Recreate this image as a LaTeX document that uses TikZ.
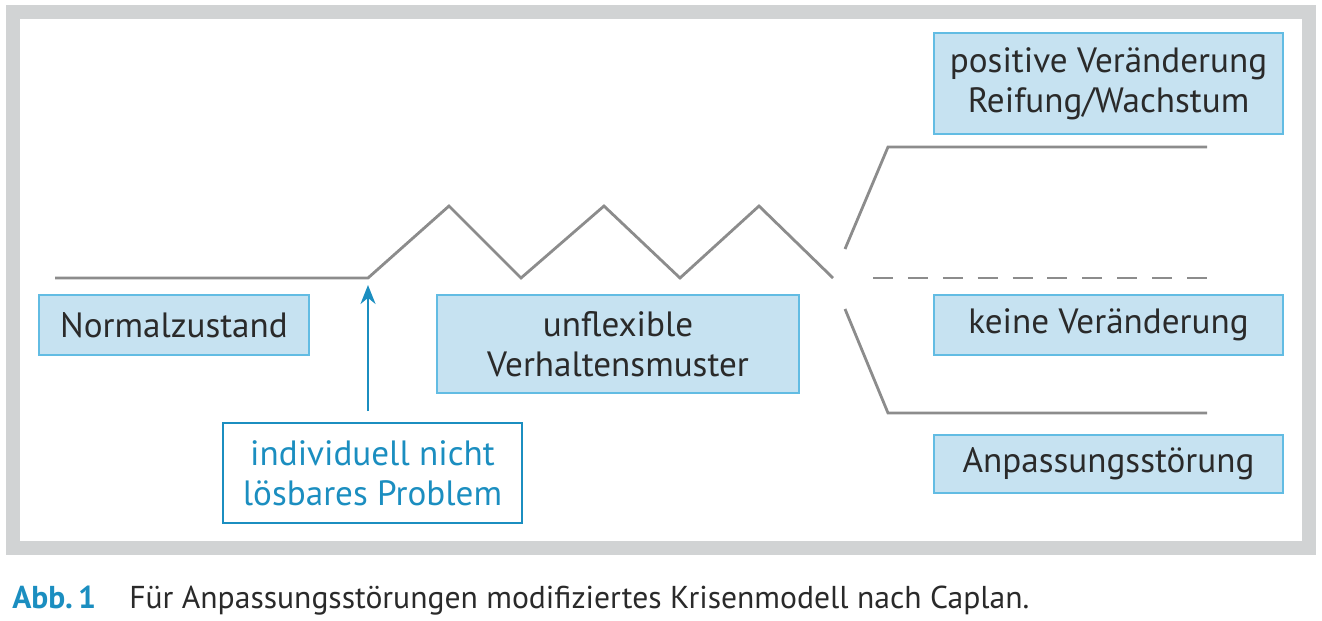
\documentclass[tikz,border=0pt]{standalone}
\usepackage{fontspec}
\setmainfont{PT Sans}
\usetikzlibrary{arrows.meta}
\definecolor{rahmen}{HTML}{D1D3D4}
\definecolor{linie}{HTML}{8C8C8C}
\definecolor{kastenfill}{HTML}{C6E2F1}
\definecolor{kastenrand}{HTML}{62BCE3}
\definecolor{blau}{HTML}{1B8EC0}
\definecolor{schrift}{HTML}{2A2A2A}
\tikzset{
	kasten/.style={draw=kastenrand, fill=kastenfill, line width=1.1pt, align=center,
		inner sep=0pt, text=schrift, font=\fontsize{20}{23}\selectfont},
	problemkasten/.style={kasten, draw=blau, fill=white, text=blau},
	kurve/.style={draw=linie, line width=1.6pt},
}
\begin{document}
\begin{tikzpicture}[x=0.02cm, y=-0.02cm]
	\useasboundingbox (0,0) rectangle (1322,620);
	% Rahmen
	\draw[rahmen, line width=0.28cm] (13,11.5) rectangle (1309,548);

	% Verlauf
	\coordinate (start) at (55,278);
	\coordinate (beginn) at (368,278);
	\draw[kurve] (start) -- (beginn) -- (449,206) -- (521,278) -- (604,206)
		-- (680,278) -- (759,206) -- (833,278);
	% Verzweigung
	\draw[kurve] (845,249) -- (888,147) -- (1207,147);
	\draw[kurve, dash pattern=on 0.4cm off 0.298cm] (873,278) -- (1207,278);
	\draw[kurve] (845,309) -- (888,413) -- (1207,413);

	% Kaesten
	\node[kasten, minimum width=5.4cm, minimum height=1.2cm] (normal) at (174,325)
		{Normalzustand};
	\node[kasten, minimum width=7.24cm, minimum height=1.96cm] (muster) at (618,344)
		{unflexible\\Verhaltensmuster};
	\node[problemkasten, minimum width=5.98cm, minimum height=2cm] (problem) at (372.5,473)
		{individuell nicht\\lösbares Problem};
	\node[kasten, minimum width=6.98cm, minimum height=2.02cm] (positiv) at (1108.5,83.5)
		{positive Veränderung\\Reifung/Wachstum};
	\node[kasten, minimum width=6.98cm, minimum height=1.2cm] (keine) at (1108.5,325)
		{keine Veränderung};
	\node[kasten, minimum width=6.98cm, minimum height=1.16cm] (stoerung) at (1108.5,464)
		{Anpassungsstörung};

	% Pfeil
	\draw[blau, line width=1.3pt, -{Stealth[length=0.38cm, width=0.3cm]},
		shorten <=0.22cm, shorten >=0.14cm] (beginn |- problem.north) -- (beginn);

	% Bildunterschrift
	\node[anchor=base west, inner sep=0pt, text=blau,
		font=\fontsize{18}{20}\selectfont\bfseries] (abb) at (12,608) {Abb.\,1};
	\node[anchor=base west, inner sep=0pt, text=schrift,
		font=\fontsize{18}{20}\selectfont] (titel) at (129,608)
		{Für Anpassungsstörungen modifiziertes Krisenmodell nach Caplan.};
\end{tikzpicture}
\end{document}
